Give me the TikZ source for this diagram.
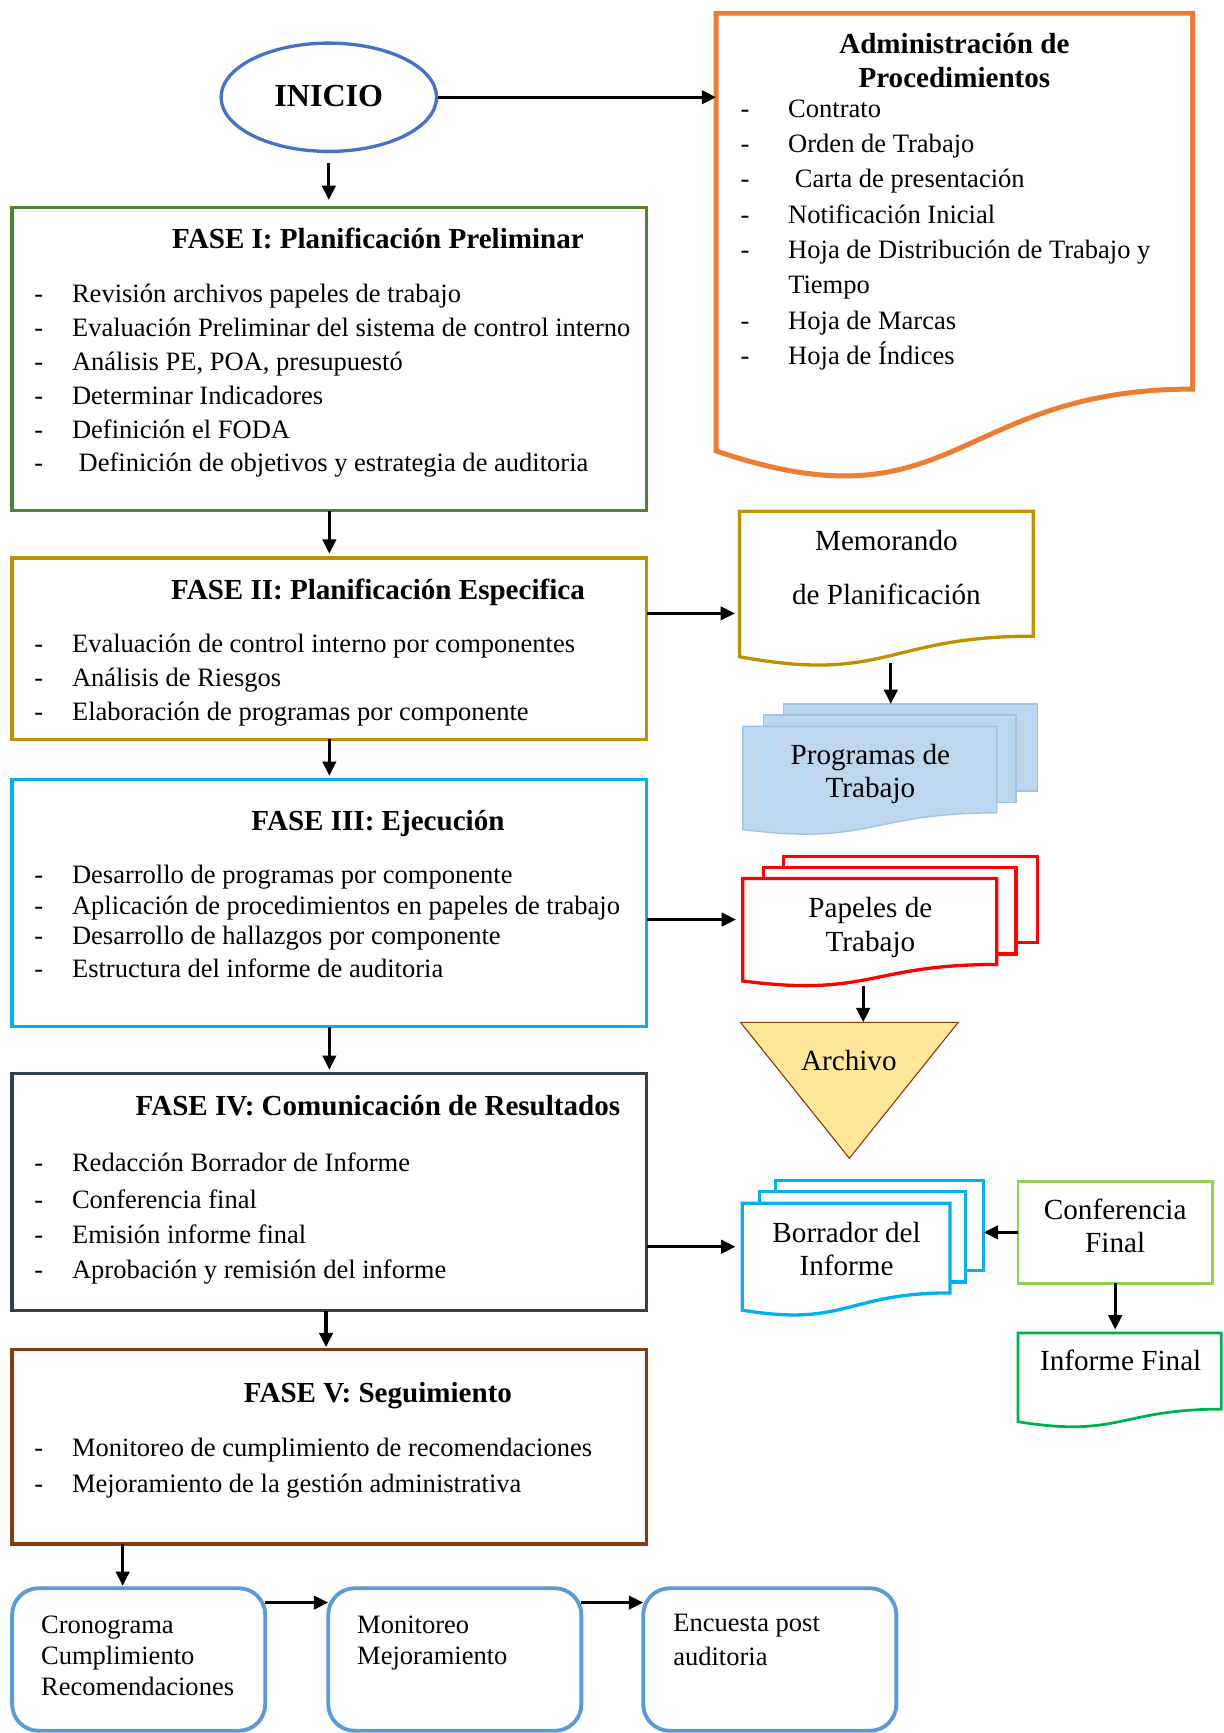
\documentclass[tikz,border=0pt]{standalone}
\usepackage{fontspec}
\setmainfont{Liberation Serif}
\usetikzlibrary{arrows.meta,calc,shapes.geometric}

\definecolor{cInicio}{HTML}{4472C4}
\definecolor{cAdmin}{HTML}{ED7D31}
\definecolor{cFa}{HTML}{538135}
\definecolor{cFb}{HTML}{BF9000}
\definecolor{cFc}{HTML}{00B0F0}
\definecolor{cFd}{HTML}{323F4F}
\definecolor{cFe}{HTML}{843C0C}
\definecolor{cProgFill}{HTML}{BDD7EE}
\definecolor{cProgLine}{HTML}{9DC3E6}
\definecolor{cPap}{HTML}{FF0000}
\definecolor{cArchFill}{HTML}{FFE699}
\definecolor{cArchLine}{HTML}{843C0C}
\definecolor{cConf}{HTML}{92D050}
\definecolor{cInf}{HTML}{00B050}
\definecolor{cRound}{HTML}{5B9BD5}

% document outline over a named frame node: name, width, height, style
\newcommand\docoutline[4]{%
  \begin{scope}[shift={(#1.north west)},x=#2pt,y=-#3pt]
    \draw[#4] (0,0) -- (1,0) -- (1,0.802) .. controls (0.5,0.802) and (0.5,1.1075) .. (0,0.934) -- cycle;
  \end{scope}}
% multi-document outline: name, width, height, style
\newcommand\multidocoutline[4]{%
  \begin{scope}[shift={(#1.north west)},x=#2pt,y=-#3pt]
    \draw[#4] (0.1376,0) rectangle (1,0.6663);
    \draw[#4] (0.0709,0.084) rectangle (0.9259,0.7524);
    \draw[#4] (0,0.1701) -- (0.8609,0.1701) -- (0.8609,0.8344) .. controls (0.4305,0.8344) and (0.4305,1.0899) .. (0,0.9621) -- cycle;
  \end{scope}}

\tikzset{
  frame/.style={inner sep=0pt, outer sep=0pt, draw=none},
  phase/.style={draw, line width=3pt, inner sep=0pt, outer sep=0pt, minimum width=574pt},
  arr/.style={line width=3pt, -{Triangle[length=13pt,width=12pt]}},
  ptitle/.style={anchor=base, inner sep=0pt, font={\fontsize{26.3}{30}\selectfont\bfseries}},
  litem/.style={anchor=base west, inner sep=0pt, font={\fontsize{24}{28}\selectfont}},
  rtext/.style={anchor=base, inner sep=0pt, font={\fontsize{26.4}{30}\selectfont}},
  rnd/.style={draw=cRound, line width=3.5pt, rounded corners=24pt, minimum width=229pt, minimum height=129pt, inner sep=0pt, outer sep=0pt},
}
\newcommand\dl{\makebox[34pt][l]{-}}
\newcommand\da{\makebox[43pt][l]{-}}

\begin{document}
\begin{tikzpicture}[x=1pt,y=-1pt]
\useasboundingbox (0,0) rectangle (1107,1568);

% ---------- INICIO ----------
\node[ellipse, draw=cInicio, line width=3pt, minimum width=195pt, minimum height=98pt, inner sep=0pt,
      font={\fontsize{29}{32}\selectfont\bfseries}] (inicio) at (297.5,88) {\raisebox{3pt}{INICIO}};

% ---------- Administracion ----------
\node[frame, minimum width=431pt, minimum height=424pt] (admin) at (863.5,224) {};
\docoutline{admin}{431}{424}{draw=cAdmin, line width=4.5pt}
\node[ptitle] (admt1) at (863.5,48) {Administración de};
\node[ptitle] (admt2) at (863.5,79) {Procedimientos};
\node[litem] (ad1) at (670,106) {\da Contrato};
\node[litem] (ad2) at (670,138) {\da Orden de Trabajo};
\node[litem] (ad3) at (670,170) {\da\hspace{6pt}Carta de presentación};
\node[litem] (ad4) at (670,202) {\da Notificación Inicial};
\node[litem] (ad5) at (670,234) {\da Hoja de Distribución de Trabajo y};
\node[litem] (ad6) at (713,266) {Tiempo};
\node[litem] (ad7) at (670,298) {\da Hoja de Marcas};
\node[litem] (ad8) at (670,330) {\da Hoja de Índices};

% ---------- FASE I ----------
\node[phase, draw=cFa, minimum height=274pt] (fa) at (298,325) {};
\node[ptitle] (fat) at (342,225) {FASE I: Planificación Preliminar};
\node[litem] (fa1) at (31,274) {\dl Revisión archivos papeles de trabajo};
\node[litem] (fa2) at (31,304.6) {\dl Evaluación Preliminar del sistema de control interno};
\node[litem] (fa3) at (31,335.2) {\dl Análisis PE, POA, presupuestó};
\node[litem] (fa4) at (31,365.8) {\dl Determinar Indicadores};
\node[litem] (fa5) at (31,396.4) {\dl Definición el FODA};
\node[litem] (fa6) at (31,427) {\dl\hspace{6pt}Definición de objetivos y estrategia de auditoria};

% ---------- FASE II ----------
\node[phase, draw=cFb, minimum height=164pt] (fb) at (298,587) {};
\node[ptitle] (fbt) at (342,542) {FASE II: Planificación Especifica};
\node[litem] (fb1) at (31,590) {\dl Evaluación de control interno por componentes};
\node[litem] (fb2) at (31,621) {\dl Análisis de Riesgos};
\node[litem] (fb3) at (31,652) {\dl Elaboración de programas por componente};

% ---------- FASE III ----------
\node[phase, draw=cFc, minimum height=224pt] (fc) at (298,817) {};
\node[ptitle] (fct) at (342,751) {FASE III: Ejecución};
\node[litem] (fc1) at (31,799) {\dl Desarrollo de programas por componente};
\node[litem] (fc2) at (31,827) {\dl Aplicación de procedimientos en papeles de trabajo};
\node[litem] (fc3) at (31,855) {\dl Desarrollo de hallazgos por componente};
\node[litem] (fc4) at (31,884) {\dl Estructura del informe de auditoria};

% ---------- FASE IV ----------
\node[phase, draw=cFd, minimum height=215pt] (fd) at (298,1078.5) {};
\node[ptitle] (fdt) at (342,1009) {FASE IV: Comunicación de Resultados};
\node[litem] (fd1) at (31,1060) {\dl Redacción Borrador de Informe};
\node[litem] (fd2) at (31,1093) {\dl Conferencia final};
\node[litem] (fd3) at (31,1125) {\dl Emisión informe final};
\node[litem] (fd4) at (31,1157) {\dl Aprobación y remisión del informe};

% ---------- FASE V ----------
\node[phase, draw=cFe, minimum height=176pt] (fe) at (298,1309) {};
\node[ptitle] (fet) at (342,1269) {FASE V: Seguimiento};
\node[litem] (fe1) at (31,1318) {\dl Monitoreo de cumplimiento de recomendaciones};
\node[litem] (fe2) at (31,1350) {\dl Mejoramiento de la gestión administrativa};

% ---------- Memorando ----------
\node[frame, minimum width=266pt, minimum height=141pt] (memo) at (802,533) {};
\docoutline{memo}{266}{141}{draw=cFb, line width=3pt, fill=white}
\node[rtext] (memot1) at (802,498) {Memorando};
\node[rtext] (memot2) at (802,547) {de Planificación};

% ---------- Programas de Trabajo ----------
\node[frame, minimum width=267pt, minimum height=118pt] (prog) at (805.5,696) {};
\multidocoutline{prog}{267}{118}{draw=cProgLine, line width=1.2pt, fill=cProgFill}
\node[rtext] (progt1) at (787.5,691.5) {Programas de};
\node[rtext] (progt2) at (787.5,721.5) {Trabajo};

% ---------- Papeles de Trabajo ----------
\node[frame, minimum width=267pt, minimum height=117pt] (pap) at (805.5,833.5) {};
\multidocoutline{pap}{267}{117}{draw=cPap, line width=3pt, fill=white}
\node[rtext] (papt1) at (787.5,830) {Papeles de};
\node[rtext] (papt2) at (787.5,861) {Trabajo};

% ---------- Archivo ----------
\node[frame, minimum width=197pt, minimum height=123pt] (arch) at (768.5,986.5) {};
\filldraw[fill=cArchFill, draw=cArchLine, line width=1pt] (arch.north west) -- (arch.north east) -- (arch.south) -- cycle;
\node[rtext] (archt) at (768,968.5) {Archivo};

% ---------- Borrador del Informe ----------
\node[frame, minimum width=218.5pt, minimum height=122pt] (bor) at (780.75,1129) {};
\multidocoutline{bor}{218.5}{122}{draw=cFc, line width=3pt, fill=white}
\node[rtext] (bort1) at (766,1124) {Borrador del};
\node[rtext] (bort2) at (766,1154) {Informe};

% ---------- Conferencia Final ----------
\node[draw=cConf, line width=2.5pt, inner sep=0pt, outer sep=0pt, minimum width=176pt, minimum height=92pt] (conf) at (1009,1115) {};
\node[rtext] (conft1) at (1009,1103) {Conferencia};
\node[rtext] (conft2) at (1009,1133) {Final};

% ---------- Informe Final ----------
\node[frame, minimum width=184pt, minimum height=86pt] (inf) at (1013,1249) {};
\docoutline{inf}{184}{86}{draw=cInf, line width=2.5pt}
\node[rtext] (inft) at (1014,1240) {Informe Final};

% ---------- bottom boxes ----------
\node[rnd] (crono) at (125.5,1501.5) {};
\node[litem] (cronot1) at (37,1478) {Cronograma};
\node[litem] (cronot2) at (37,1506) {Cumplimiento};
\node[litem] (cronot3) at (37,1534) {Recomendaciones};
\node[rnd] (moni) at (411.5,1501.5) {};
\node[litem] (monit1) at (323,1478) {Monitoreo};
\node[litem] (monit2) at (323,1506) {Mejoramiento};
\node[rnd] (enc) at (696.5,1501.5) {};
\node[litem] (enct1) at (609,1476) {Encuesta post};
\node[litem] (enct2) at (609,1507) {auditoria};

% ---------- connectors ----------
\draw[arr] (inicio.east) -- (inicio.east -| admin.west);
\draw[arr, shorten <=9pt, shorten >=7pt] (inicio.south) -- (inicio.south |- fa.north);
\draw[arr, shorten >=4pt] (fa.south) -- (fa.south |- fb.north);
\draw[arr, shorten >=3pt] (fb.south) -- (fb.south |- fc.north);
\draw[arr, shorten >=3pt] (fc.south) -- (fc.south |- fd.north);
\coordinate (pd) at ([xshift=-3pt]fd.south);
\draw[arr, shorten >=2pt] (pd) -- (pd |- fe.north);
\coordinate (pe) at ([xshift=-187pt]fe.south);
\draw[arr, shorten >=2pt] (pe) -- (pe |- crono.north);

\coordinate (pb) at ([yshift=-50pt]fb.north east);
\draw[arr, shorten >=4pt] (pb) -- (pb -| memo.west);
\coordinate (pc) at ([yshift=-127pt]fc.north east);
\draw[arr, shorten >=6pt] (pc) -- (pc -| pap.west);
\coordinate (pdd) at ([yshift=-157pt]fd.north east);
\draw[arr, shorten >=6pt] (pdd) -- (pdd -| bor.west);

\coordinate (pm) at ([xshift=4pt,yshift=3.5pt]memo.south);
\draw[arr] (pm) -- (pm |- prog.north);
\coordinate (pp) at ([xshift=-24.5pt]pap.south);
\draw[arr] (pp) -- (pp |- arch.north);

\draw[arr] (conf.west) -- (conf.west -| bor.east);
\draw[arr, shorten >=3pt] (conf.south) -- (conf.south |- inf.north);

\coordinate (pcr) at ([yshift=-13pt]crono.north east);
\draw[arr] (pcr) -- (pcr -| moni.west);
\coordinate (pmo) at ([yshift=-13pt]moni.north east);
\draw[arr] (pmo) -- (pmo -| enc.west);
\end{tikzpicture}
\end{document}
